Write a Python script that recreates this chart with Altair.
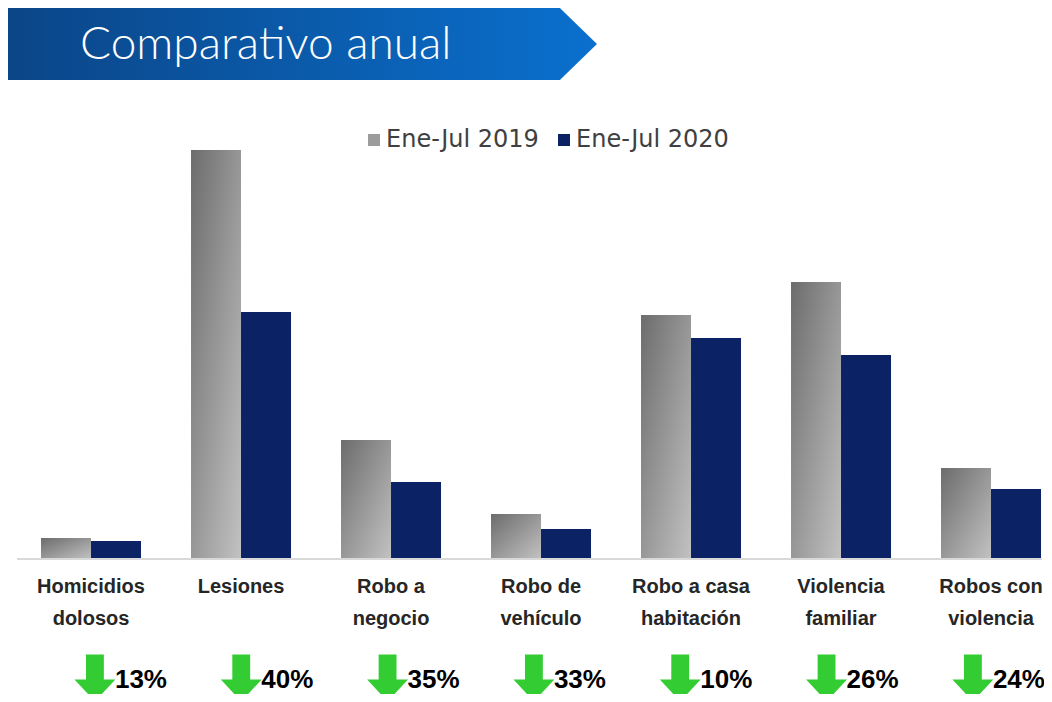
import altair as alt
import pandas as pd

titulo = "Comparativo anual"
categorias = ["Homicidios dolosos", "Lesiones", "Robo a negocio", "Robo de vehículo",
              "Robo a casa habitación", "Violencia familiar", "Robos con violencia"]
etiquetas = ["Homicidios\ndolosos", "Lesiones", "Robo a\nnegocio", "Robo de\nvehículo",
             "Robo a casa\nhabitación", "Violencia\nfamiliar", "Robos con\nviolencia"]
series = ["Ene-Jul 2019", "Ene-Jul 2020"]
valores_2019 = [21, 409, 119, 45, 244, 277, 91]
valores_2020 = [18, 247, 77, 30, 221, 204, 70]
variacion = [13, 40, 35, 33, 10, 26, 24]

barras = pd.DataFrame({
    "categoria": categorias * 2,
    "serie": [series[0]] * len(categorias) + [series[1]] * len(categorias),
    "valor": valores_2019 + valores_2020,
})
cats = pd.DataFrame({
    "categoria": categorias,
    "etiqueta": etiquetas,
    "pct": [f"{v}%" for v in variacion],
})
uno = pd.DataFrame({"titulo": [titulo]})

x_enc = alt.X("categoria:N", sort=categorias,
              scale=alt.Scale(type="band", domain=categorias, paddingInner=1/3,
                              paddingOuter=0.12, align=0.917),
              axis=None)
x_row = alt.X("categoria:N", sort=categorias,
              scale=alt.Scale(type="point", domain=categorias, padding=0.54, align=0.55),
              axis=None)
xo_enc = alt.XOffset("serie:N", scale=alt.Scale(domain=series, paddingInner=0, paddingOuter=0))
y_enc = alt.Y("valor:Q", scale=alt.Scale(domain=[0, 551], nice=False), axis=None)

grad_banner = alt.Gradient(gradient="linear", x1=0, y1=0, x2=1, y2=0,
                           stops=[alt.GradientStop(color="#0b4587", offset=0),
                                  alt.GradientStop(color="#0a70ce", offset=1)])
grad_grey = alt.Gradient(gradient="linear", x1=0, y1=0, x2=1, y2=1,
                         stops=[alt.GradientStop(color="#6c6c6c", offset=0),
                                alt.GradientStop(color="#c2c2c2", offset=1)])

banner_path = "M0,-1L15.33,-1L16.36,0L15.33,1L0,1Z"
arrow_path = "M-0.38,-1L0.38,-1L0.38,0.06L0.87,0.06L0,1L-0.87,0.06L-0.38,0.06Z"

banner = alt.Chart(uno).mark_point(shape=banner_path, size=5184, filled=True, fill=grad_banner,
                                   strokeWidth=0, opacity=1).encode(
    x=alt.value(0), y=alt.value(36))
title_txt = alt.Chart(uno).mark_text(font="Lato", fontWeight=300, fontSize=46, color="white",
                                     align="left", baseline="middle").encode(
    x=alt.value(72), y=alt.value(37), text="titulo:N")

b2019 = alt.Chart(barras).transform_filter(alt.datum.serie == series[0]).mark_bar(
    fill=grad_grey, strokeWidth=0).encode(x=x_enc, xOffset=xo_enc, y=y_enc)
b2020 = alt.Chart(barras).transform_filter(alt.datum.serie == series[1]).mark_bar(
    strokeWidth=0, opacity=1).encode(
    x=x_enc, xOffset=xo_enc, y=y_enc,
    color=alt.Color("serie:N", scale=alt.Scale(domain=series, range=["#9c9c9c", "#0b2265"]),
                    legend=alt.Legend(orient="none", legendX=354, legendY=120, direction="horizontal",
                                      title=None, symbolType="square", symbolSize=144,
                                      symbolStrokeWidth=0, symbolOpacity=1,
                                      labelFontSize=24, labelFont="DejaVu Sans", labelColor="#404040",
                                      labelOffset=0, columnPadding=13, padding=0)))

base_line = alt.Chart(uno).mark_rule(color="#d9d9d9", strokeWidth=2).encode(
    y=alt.datum(0), x=alt.value(9), x2=alt.value(1034))

labels = alt.Chart(cats).mark_text(font="Liberation Sans", fontWeight="bold", fontSize=20,
                                   color="#262626", lineBreak="\n", lineHeight=32,
                                   baseline="alphabetic", align="center").encode(
    x=x_enc, y=alt.value(585), text="etiqueta:N")

arrows = alt.Chart(cats).mark_point(shape=arrow_path, size=2209, filled=True, fill="#33cc33",
                                    strokeWidth=0, opacity=1).encode(
    x=x_row, y=alt.value(670))

pcts = alt.Chart(cats).mark_text(font="Liberation Sans", fontWeight="bold", fontSize=26,
                                 color="black", align="left", baseline="middle", dx=20).encode(
    x=x_row, y=alt.value(672), text="pct:N")

chart = alt.layer(banner, title_txt, b2019, b2020, base_line, labels, arrows, pcts).resolve_scale(
    x="independent"
).properties(
    width=1036, height=551,
    autosize=alt.AutoSizeParams(type="none"),
    padding={"left": 0, "top": 0, "right": 0, "bottom": 135},
).configure_view(stroke=None)

chart.save("out.html", embed_options={"renderer": "svg", "actions": False})
